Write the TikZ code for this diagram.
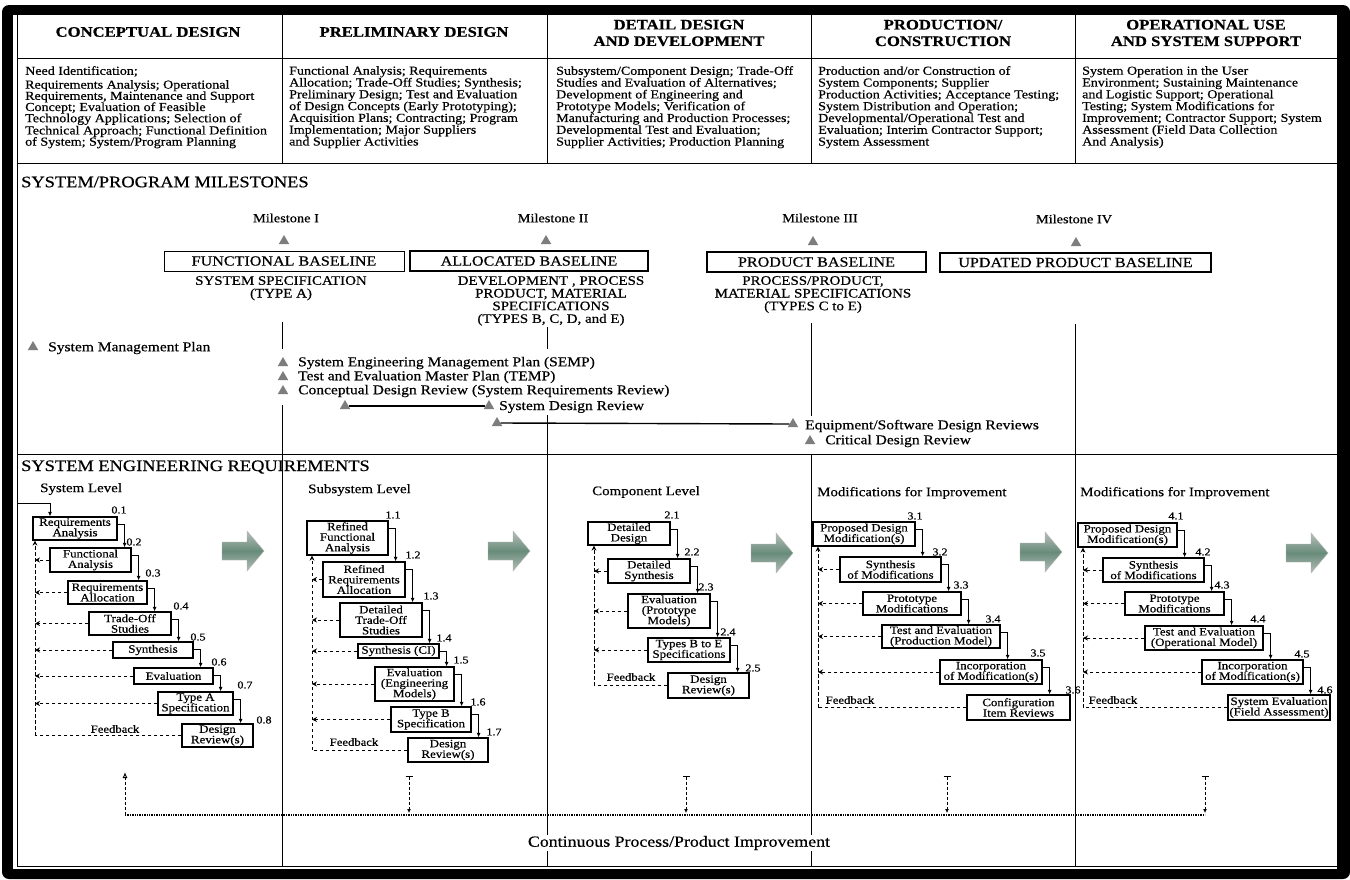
\documentclass[tikz,border=0pt]{standalone}
\usepackage{fontspec}
\setmainfont{Liberation Serif}[FakeStretch=1.15, FakeBold=0.5]
\usetikzlibrary{arrows.meta,shapes.geometric}

\definecolor{arrowmid}{RGB}{104,140,122}
\definecolor{arrowedge}{RGB}{182,190,186}
\definecolor{mgrey}{RGB}{125,125,125}

\newcommand{\fs}[2]{\fontsize{#1}{#2}\selectfont}

\tikzset{
  frameline/.style={line width=1pt},
  sebox/.style={draw, line width=1.2pt, fill=white, align=center, inner sep=0pt, font=\fs{11.2}{10.5}},
  flow/.style={line width=1pt, -{Latex[length=4.5pt,width=4pt]}},
  fbarrow/.style={line width=0.9pt, dash pattern=on 3.5pt off 2.5pt, -{Stealth[length=5pt,width=5pt]}},
  fbline/.style={line width=0.9pt, dash pattern=on 3.5pt off 2.5pt},
  steplabel/.style={font=\fs{10.5}{10}, inner sep=0pt},
  mtri/.style={regular polygon, regular polygon sides=3, minimum size=12pt, inner sep=0pt, fill=mgrey, draw=none},
  mtext/.style={anchor=west, inner sep=0pt, font=\fs{13.5}{14}},
  milabel/.style={inner sep=0pt, font=\fs{12.5}{13}},
  basebox/.style={draw, line width=1.3pt, inner sep=0pt, font=\fs{14}{15}},
  spec/.style={align=center, anchor=north, inner sep=0pt, font=\fs{13}{12.7}},
  phasetitle/.style={align=center, inner sep=0pt, font=\bfseries\fs{14.5}{16.5}},
  phasedesc/.style={align=left, anchor=north west, inner sep=0pt},
  secthead/.style={anchor=west, inner sep=0pt, font=\fs{16}{16}},
  levellabel/.style={anchor=west, inner sep=0pt, font=\fs{13}{13}},
  fbtext/.style={inner sep=0pt, font=\fs{11}{11}},
  nextphase/.style={top color=arrowedge, bottom color=arrowedge, middle color=arrowmid, draw=gray!60, line width=0.4pt},
  improve/.style={line width=0.9pt, dash pattern=on 3pt off 2pt},
  dotline/.style={line width=1.5pt, dash pattern=on 1.3pt off 1.1pt},
}

% box given by its corners: name, x1, y1, x2, y2, text
\newcommand{\sebox}[6]{\node[sebox, minimum width={#4-#2}, minimum height={#5-#3}] (#1) at ({(#2+#4)/2},{(#3+#5)/2}) {#6};}
% step-to-step connector: out of the right side, down onto the next box
\newcommand{\flowto}[2]{\draw[flow] ([yshift=-8pt]#1.north east) -- ++(7,0) coordinate (#1turn) -- (#1turn |- #2.north);}
% dashed feedback from a box back to the column's feedback rail
\newcommand{\fbto}[2]{\draw[fbarrow] (#1.west) -- (#1.west -| #2);}
% shaded block arrow towards the next phase
\newcommand{\nextarrow}[3]{\coordinate (#1) at (#2,#3);
  \shade[nextphase] ({#2},{#3-9}) -- ({#2+25},{#3-9}) -- ({#2+25},{#3-20}) -- ({#2+42},{#3}) -- ({#2+25},{#3+20}) -- ({#2+25},{#3+9}) -- ({#2},{#3+9}) -- cycle;}

\begin{document}
\begin{tikzpicture}[x=1pt,y=-1pt]
\useasboundingbox (0,0) rectangle (1350,879);

% heavy outer border
\fill[black, rounded corners=7pt] (2,5) rectangle (1350,879);
\fill[white] (13,15) rectangle (1337,869);

% rules
\draw[frameline] (17,15) -- (17,866) -- (1337,866);
\draw[frameline] (17,58) -- (1337,58);
\draw[frameline] (17,163) -- (1337,163);
\draw[frameline] (17,454) -- (1337,454);
\foreach \x in {282,547,811,1075} \draw[frameline] (\x,15) -- (\x,163);
\draw[frameline] (282,322) -- (282,349);
\draw[frameline] (282,405) -- (282,866);
\draw[frameline] (547,327) -- (547,349);
\draw[frameline] (547,415) -- (547,866);
\draw[frameline] (811,323) -- (811,416);
\draw[frameline] (811,454) -- (811,866);
\draw[frameline] (1075,324) -- (1075,866);

% ---------- phase headings ----------
\node[phasetitle] (t1) at (148,32) {CONCEPTUAL DESIGN};
\node[phasetitle] (t2) at (414,32) {PRELIMINARY DESIGN};
\node[phasetitle] (t3) at (679,33) {DETAIL DESIGN\\AND DEVELOPMENT};
\node[phasetitle] (t4) at (943,33) {PRODUCTION/\\CONSTRUCTION};
\node[phasetitle] (t5) at (1206,33) {OPERATIONAL USE\\AND SYSTEM SUPPORT};

\node[phasedesc, font=\fs{12.2}{11.2}] (d1) at (25,66) {Need Identification;\\[2.6pt]
Requirements Analysis; Operational\\
Requirements, Maintenance and Support\\
Concept; Evaluation of Feasible\\
Technology Applications; Selection of\\
Technical Approach; Functional Definition\\
of System; System/Program Planning};
\node[phasedesc, font=\fs{12.2}{11.8}] (d2) at (289,66) {Functional Analysis; Requirements\\
Allocation; Trade-Off Studies; Synthesis;\\
Preliminary Design; Test and Evaluation\\
of Design Concepts (Early Prototyping);\\
Acquisition Plans; Contracting; Program\\
Implementation; Major Suppliers\\
and Supplier Activities};
\node[phasedesc, font=\fs{12.2}{11.8}] (d3) at (556,66) {Subsystem/Component Design; Trade-Off\\
Studies and Evaluation of Alternatives;\\
Development of Engineering and\\
Prototype Models; Verification of\\
Manufacturing and Production Processes;\\
Developmental Test and Evaluation;\\
Supplier Activities; Production Planning};
\node[phasedesc, font=\fs{12.2}{11.8}] (d4) at (818,66) {Production and/or Construction of\\
System Components; Supplier\\
Production Activities; Acceptance Testing;\\
System Distribution and Operation;\\
Developmental/Operational Test and\\
Evaluation; Interim Contractor Support;\\
System Assessment};
\node[phasedesc, font=\fs{12.2}{11.8}] (d5) at (1082,66) {System Operation in the User\\
Environment; Sustaining Maintenance\\
and Logistic Support; Operational\\
Testing; System Modifications for\\
Improvement; Contractor Support; System\\
Assessment (Field Data Collection\\
And Analysis)};

% ---------- milestones ----------
\node[secthead] (msh) at (21,182) {SYSTEM/PROGRAM MILESTONES};

\node[milabel] (ml1) at (286,218) {Milestone I};
\node[milabel] (ml2) at (553,218) {Milestone II};
\node[milabel] (ml3) at (820,218) {Milestone III};
\node[milabel] (ml4) at (1074,219) {Milestone IV};
\node[mtri] (mt1) at (284,241) {};
\node[mtri] (mt2) at (546,241) {};
\node[mtri] (mt3) at (813,242) {};
\node[mtri] (mt4) at (1076,243) {};

\node[basebox, minimum width=240, minimum height=20, line width=0.9pt] (fb) at (284,261) {FUNCTIONAL BASELINE};
\node[basebox, minimum width=238, minimum height=20] (ab) at (529,261) {ALLOCATED BASELINE};
\node[basebox, minimum width=219, minimum height=20, line width=1.8pt] (pb) at (816.5,262) {PRODUCT BASELINE};
\node[basebox, minimum width=271, minimum height=19, line width=1.5pt] (upb) at (1075.5,262.5) {UPDATED PRODUCT BASELINE};

\node[spec] (s1) at (281,276) {SYSTEM SPECIFICATION\\(TYPE A)};
\node[spec] (s2) at (551,276) {DEVELOPMENT , PROCESS\\PRODUCT, MATERIAL\\SPECIFICATIONS\\(TYPES B, C, D, and E)};
\node[spec] (s3) at (813,276) {PROCESS/PRODUCT,\\MATERIAL SPECIFICATIONS\\(TYPES C to E)};

\node[mtri] (smp) at (33,347) {};
\node[mtext] (smpt) at (48,348) {System Management Plan};
\node[mtri] (semp) at (283,363) {};
\node[mtext] (sempt) at (298,363) {System Engineering Management Plan (SEMP)};
\node[mtri] (temp) at (283,377) {};
\node[mtext] (tempt) at (298,377) {Test and Evaluation Master Plan (TEMP)};
\node[mtri] (cdr) at (283,391) {};
\node[mtext] (cdrt) at (298,391) {Conceptual Design Review (System Requirements Review)};
\node[mtri] (sdra) at (345,406) {};
\node[mtri] (sdrb) at (489,406) {};
\draw[line width=1.7pt] (sdra.east) -- (sdrb.west);
\node[mtext] (sdrt) at (499,407) {System Design Review};
\node[mtri] (eqa) at (497,423) {};
\node[mtri] (eqb) at (793,424) {};
\draw[line width=1.4pt] (eqa.east) -- (eqb.west);
\node[mtext] (eqt) at (805,426) {Equipment/Software Design Reviews};
\node[mtri] (crit) at (810,441) {};
\node[mtext] (critt) at (825,441) {Critical Design Review};

% ---------- system engineering requirements ----------
\node[secthead] (ser) at (21,467) {SYSTEM ENGINEERING REQUIREMENTS};

\node[levellabel] (lv0) at (40,489) {System Level};
\node[levellabel] (lv1) at (308,490) {Subsystem Level};
\node[levellabel] (lv2) at (592,492) {Component Level};
\node[levellabel] (lv3) at (817,493) {Modifications for Improvement};
\node[levellabel] (lv4) at (1080,493) {Modifications for Improvement};

% system level
\sebox{b01}{33}{517}{117}{540}{Requirements\\Analysis}
\sebox{b02}{50}{548}{131}{572}{Functional\\Analysis}
\sebox{b03}{68}{581}{147}{604}{Requirements\\Allocation}
\sebox{b04}{89}{612}{171}{635}{Trade-Off\\Studies}
\sebox{b05}{113}{642}{193}{658}{Synthesis}
\sebox{b06}{134}{668}{213}{684}{Evaluation}
\sebox{b07}{158}{692}{233}{715}{Type A\\Specification}
\sebox{b08}{182}{724}{253}{747}{Design\\Review(s)}
\coordinate (entry) at (17,503);
\draw[flow] (entry) -| (b01.north -| 50,0);
\flowto{b01}{b02}\flowto{b02}{b03}\flowto{b03}{b04}\flowto{b04}{b05}
\flowto{b05}{b06}\flowto{b06}{b07}\flowto{b07}{b08}
\coordinate (fv0) at (35,0);
\fbto{b02}{fv0}\fbto{b03}{fv0}\fbto{b04}{fv0}\fbto{b05}{fv0}\fbto{b06}{fv0}\fbto{b07}{fv0}
\draw[fbline] (b08.west) -- (b08.west -| fv0);
\draw[fbarrow] (b08.west -| fv0) -- (fv0 |- b01.south);
\node[fbtext] (fbl0) at (115,729) {Feedback};
\node[steplabel] (n01) at (119,510) {0.1};
\node[steplabel] (n02) at (134,542) {0.2};
\node[steplabel] (n03) at (153,573) {0.3};
\node[steplabel] (n04) at (181,606) {0.4};
\node[steplabel] (n05) at (198,637) {0.5};
\node[steplabel] (n06) at (219,662) {0.6};
\node[steplabel] (n07) at (245,685) {0.7};
\node[steplabel] (n08) at (264,720) {0.8};
\nextarrow{na0}{222}{551}

% subsystem level
\sebox{b11}{307}{521}{388}{555}{Refined\\Functional\\Analysis}
\sebox{b12}{323}{562}{405}{597}{Refined\\Requirements\\Allocation}
\sebox{b13}{340}{603}{422}{637}{Detailed\\Trade-Off\\Studies}
\sebox{b14}{358}{644}{439}{658}{Synthesis (CI)}
\sebox{b15}{375}{667}{454}{701}{Evaluation\\(Engineering\\Models)}
\sebox{b16}{391}{707}{471}{732}{Type B\\Specification}
\sebox{b17}{408}{738}{488}{762}{Design\\Review(s)}
\flowto{b11}{b12}\flowto{b12}{b13}\flowto{b13}{b14}\flowto{b14}{b15}
\flowto{b15}{b16}\flowto{b16}{b17}
\coordinate (fv1) at (312,0);
\fbto{b12}{fv1}\fbto{b13}{fv1}\fbto{b14}{fv1}\fbto{b15}{fv1}\fbto{b16}{fv1}
\draw[fbline] (b17.west) -- (b17.west -| fv1);
\draw[fbarrow] (b17.west -| fv1) -- (fv1 |- b11.south);
\node[fbtext] (fbl1) at (354,742) {Feedback};
\node[steplabel] (n11) at (393,515) {1.1};
\node[steplabel] (n12) at (413,555) {1.2};
\node[steplabel] (n13) at (431,596) {1.3};
\node[steplabel] (n14) at (444,638) {1.4};
\node[steplabel] (n15) at (461,660) {1.5};
\node[steplabel] (n16) at (478,702) {1.6};
\node[steplabel] (n17) at (494,732) {1.7};
\nextarrow{na1}{488}{551}

% component level
\sebox{b21}{588}{522}{670}{545}{Detailed\\Design}
\sebox{b22}{608}{559}{690}{583}{Detailed\\Synthesis}
\sebox{b23}{628}{594}{710}{628}{Evaluation\\(Prototype\\Models)}
\sebox{b24}{648}{638}{730}{662}{Types B to E\\Specifications}
\sebox{b25}{668}{673}{749}{698}{Design\\Review(s)}
\flowto{b21}{b22}\flowto{b22}{b23}\flowto{b23}{b24}\flowto{b24}{b25}
\coordinate (fv2) at (594,0);
\fbto{b22}{fv2}\fbto{b23}{fv2}\fbto{b24}{fv2}
\draw[fbline] (b25.west) -- (b25.west -| fv2);
\draw[fbarrow] (b25.west -| fv2) -- (fv2 |- b21.south);
\node[fbtext] (fbl2) at (631,677) {Feedback};
\node[steplabel] (n21) at (672,515) {2.1};
\node[steplabel] (n22) at (692,552) {2.2};
\node[steplabel] (n23) at (706,587) {2.3};
\node[steplabel] (n24) at (728,632) {2.4};
\node[steplabel] (n25) at (753,668) {2.5};
\nextarrow{na2}{751}{553}

% production modifications
\sebox{b31}{813}{522}{915}{546}{Proposed Design\\Modification(s)}
\sebox{b32}{840}{557}{941}{582}{Synthesis\\of Modifications}
\sebox{b33}{863}{592}{961}{615}{Prototype\\Modifications}
\sebox{b34}{882}{625}{1000}{648}{Test and Evaluation\\(Production Model)}
\sebox{b35}{940}{660}{1042}{684}{Incorporation\\of Modification(s)}
\sebox{b36}{967}{695}{1070}{720}{Configuration\\Item Reviews}
\flowto{b31}{b32}\flowto{b32}{b33}\flowto{b33}{b34}\flowto{b34}{b35}\flowto{b35}{b36}
\coordinate (fv3) at (818,0);
\fbto{b32}{fv3}\fbto{b33}{fv3}\fbto{b34}{fv3}\fbto{b35}{fv3}
\draw[fbline] (b36.west) -- (b36.west -| fv3);
\draw[fbarrow] (b36.west -| fv3) -- (fv3 |- b31.south);
\node[fbtext] (fbl3) at (850,700) {Feedback};
\node[steplabel] (n31) at (915,516) {3.1};
\node[steplabel] (n32) at (940,552) {3.2};
\node[steplabel] (n33) at (961,585) {3.3};
\node[steplabel] (n34) at (993,619) {3.4};
\node[steplabel] (n35) at (1038,653) {3.5};
\node[steplabel] (n36) at (1073,690) {3.6};
\nextarrow{na3}{1020}{552}

% operational modifications
\sebox{b41}{1078}{523}{1177}{547}{Proposed Design\\Modification(s)}
\sebox{b42}{1103}{558}{1204}{582}{Synthesis\\of Modifications}
\sebox{b43}{1125}{592}{1224}{615}{Prototype\\Modifications}
\sebox{b44}{1145}{626}{1263}{650}{Test and Evaluation\\(Operational Model)}
\sebox{b45}{1202}{660}{1303}{684}{Incorporation\\of Modification(s)}
\sebox{b46}{1228}{695}{1330}{720}{System Evaluation\\(Field Assessment)}
\flowto{b41}{b42}\flowto{b42}{b43}\flowto{b43}{b44}\flowto{b44}{b45}\flowto{b45}{b46}
\coordinate (fv4) at (1083,0);
\fbto{b42}{fv4}\fbto{b43}{fv4}\fbto{b44}{fv4}\fbto{b45}{fv4}
\draw[fbline] (b46.west) -- (b46.west -| fv4);
\draw[fbarrow] (b46.west -| fv4) -- (fv4 |- b41.south);
\node[fbtext] (fbl4) at (1113,700) {Feedback};
\node[steplabel] (n41) at (1176,516) {4.1};
\node[steplabel] (n42) at (1203,552) {4.2};
\node[steplabel] (n43) at (1222,585) {4.3};
\node[steplabel] (n44) at (1258,619) {4.4};
\node[steplabel] (n45) at (1302,654) {4.5};
\node[steplabel] (n46) at (1325,690) {4.6};
\nextarrow{na4}{1286}{553}

% ---------- continuous improvement loop ----------
\coordinate (ciL) at (125,815);
\coordinate (ciR) at (1205,815);
\coordinate (ciTop) at (125,772);
\draw[dotline] (ciL) -- (ciR);
\draw[improve, -{Latex[open,length=6pt,width=5pt]}] (ciL) -- (ciTop);
\foreach \x/\n in {409/a,686/b,947/c,1205/d}{
  \coordinate (cu\n) at (\x,776);
  \coordinate (cd\n) at (\x,813);
  \draw[improve, {Bar[width=7pt]}-{Latex[length=4pt,width=4pt]}] (cu\n) -- (cd\n);
}
\node[inner sep=1pt, fill=white, font=\fs{15.5}{15.5}] (cpi) at (679,843) {Continuous Process/Product Improvement};

\end{tikzpicture}
\end{document}
